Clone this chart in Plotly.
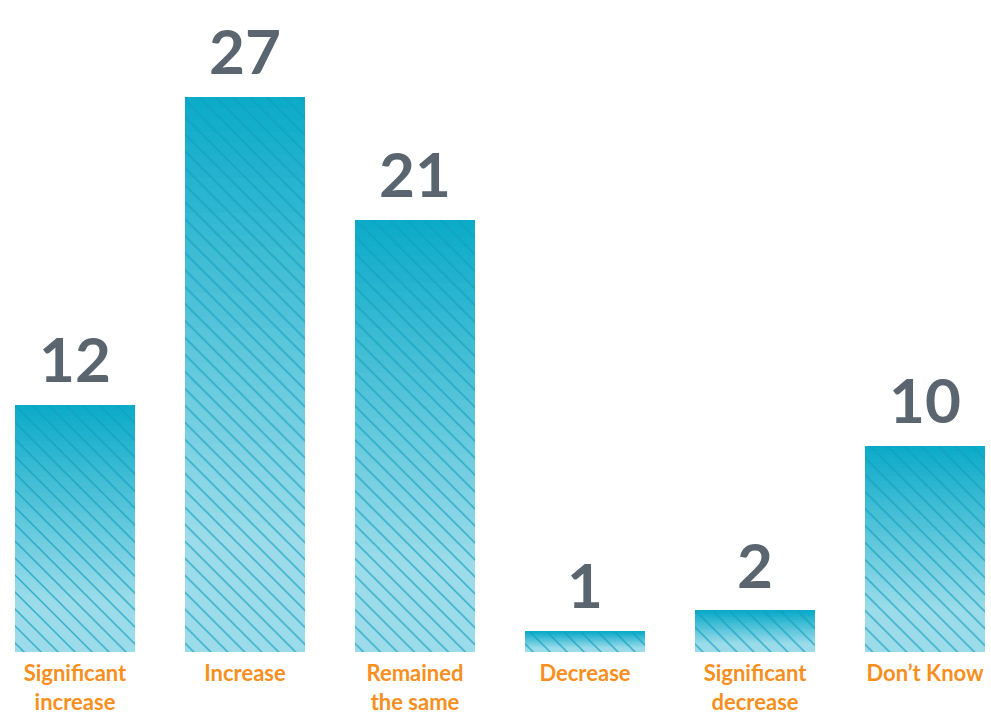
import plotly.graph_objects as go

# Survey responses
categories = ["Significant increase", "Increase", "Remained the same",
              "Decrease", "Significant decrease", "Don\u2019t Know"]
tick_labels = ["Significant<br>increase", "Increase", "Remained<br>the same",
               "Decrease", "Significant<br>decrease", "Don\u2019t Know"]
values = [12, 27, 21, 1, 2, 10]

# Vertical gradient per bar: dark cyan at the top fading to pale cyan
TOP_RGB = (10, 170, 200)
BOTTOM_RGB = (156, 220, 234)
N_STEPS = 48
FADE_END = 0.8  # fraction of bar height (from top) where the fade finishes
BAR_WIDTH = 0.706
X_RANGE = [-0.441, 5.388]


def blend(frac_from_top):
    t = min(frac_from_top / FADE_END, 1.0)
    r, g, b = (round(a + (c - a) * t) for a, c in zip(TOP_RGB, BOTTOM_RGB))
    return f"rgb({r},{g},{b})"


fig = go.Figure()

# Gradient body: each bar is a stack of thin slices
for k in range(N_STEPS):
    frac_top = 1 - (k + 0.5) / N_STEPS
    col = blend(frac_top)
    fig.add_trace(go.Bar(
        x=categories,
        y=[v / N_STEPS for v in values],
        width=BAR_WIDTH,
        marker=dict(color=col, line=dict(width=0)),
        hoverinfo="skip",
        showlegend=False,
    ))

# Diagonal hatching laid over the full bars
fig.add_trace(go.Bar(
    x=categories,
    y=values,
    width=BAR_WIDTH,
    xaxis="x2",
    marker=dict(
        color="rgba(0,0,0,0)",
        line=dict(width=0),
        pattern=dict(shape="\\", size=12, solidity=0.13,
                     fgcolor="rgb(16,158,190)", fgopacity=0.75,
                     bgcolor="rgba(0,0,0,0)"),
    ),
    hoverinfo="skip",
    showlegend=False,
))

# Value labels above each bar
for c, v in zip(categories, values):
    fig.add_annotation(
        x=c, y=v, text=str(v), showarrow=False,
        yanchor="bottom", yshift=8,
        font=dict(family="Lato", size=62, color="#5b6570", weight=700),
    )

fig.update_layout(
    width=991, height=714,
    margin=dict(l=0, r=0, t=0, b=62),
    paper_bgcolor="white", plot_bgcolor="white",
    barmode="stack",
    xaxis=dict(
        type="category",
        range=X_RANGE,
        tickvals=categories,
        ticktext=tick_labels,
        showgrid=False, zeroline=False, showline=False, ticks="",
        tickfont=dict(family="Lato", size=22, color="#f78f1e", weight=700),
        ticklabelstandoff=6,
        automargin=False,
    ),
    xaxis2=dict(
        type="category",
        range=X_RANGE,
        overlaying="x",
        categoryarray=categories,
        visible=False,
        automargin=False,
    ),
    yaxis=dict(range=[0, 31.71], visible=False),
)

fig.write_html("out.html")
